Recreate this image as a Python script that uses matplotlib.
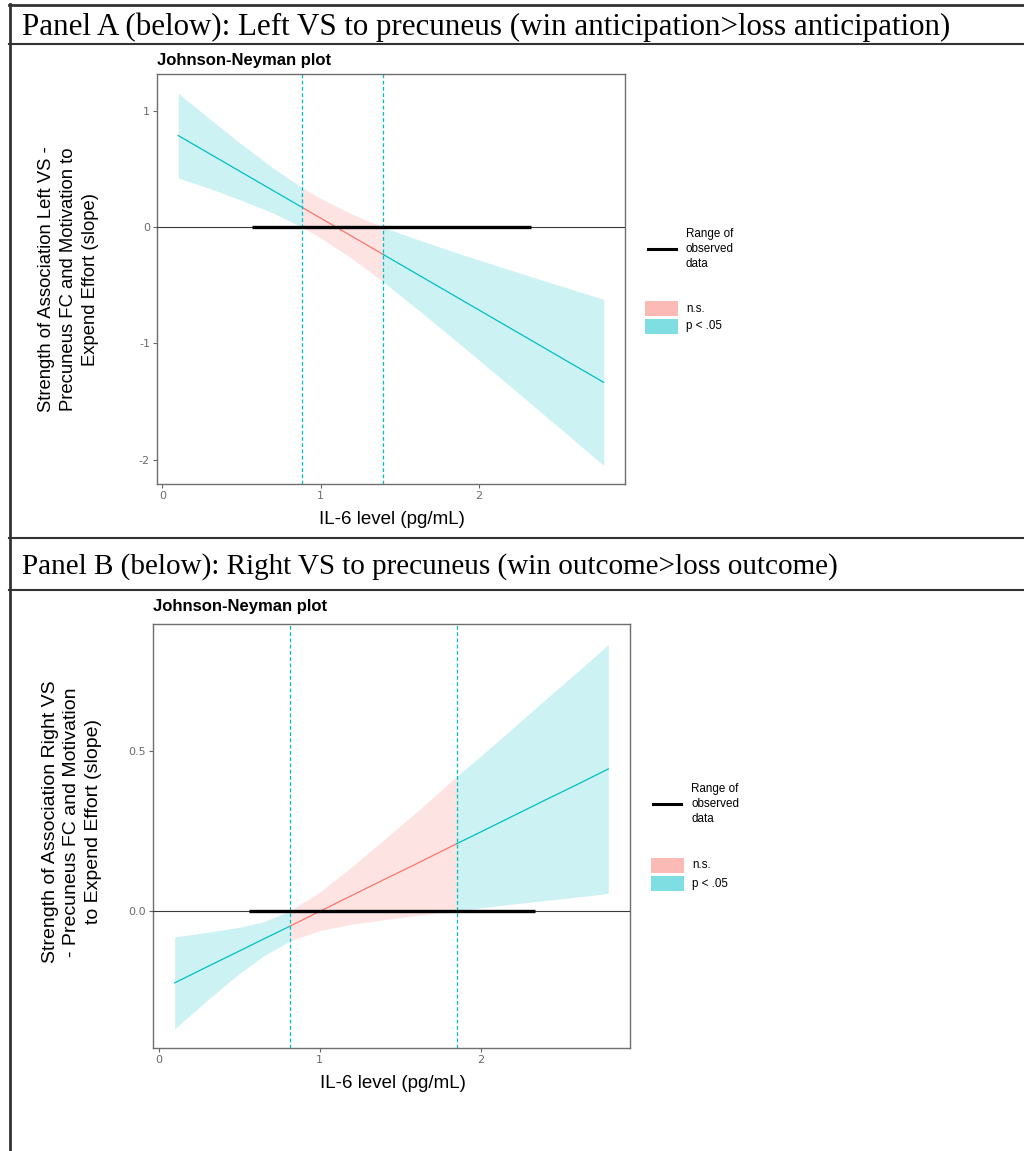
import matplotlib
matplotlib.use('Agg')
import matplotlib.pyplot as plt
from matplotlib.lines import Line2D
from matplotlib.patches import Rectangle
import numpy as np

# ---------------- data ----------------
# Panel A: Left VS to precuneus
a_x   = [0.10, 0.30, 0.50, 0.70, 0.885, 1.00, 1.20, 1.396, 1.60, 1.80, 2.00, 2.20, 2.40, 2.60, 2.79]
a_est = [0.790, 0.632, 0.474, 0.316, 0.170, 0.079, -0.079, -0.234, -0.395, -0.553, -0.711, -0.869, -1.027, -1.185, -1.335]
a_lo  = [0.425, 0.333, 0.233, 0.122, 0.000, -0.090, -0.271, -0.470, -0.692, -0.915, -1.141, -1.370, -1.600, -1.830, -2.050]
a_hi  = [1.155, 0.932, 0.715, 0.510, 0.340, 0.248, 0.113, 0.000, -0.099, -0.192, -0.281, -0.368, -0.454, -0.540, -0.620]
a_jn = [0.885, 1.396]
a_range = [0.565, 2.33]
a_yticks = [-2, -1, 0, 1]
a_yticklabels = ['-2', '-1', '0', '1']

# Panel B: Right VS to precuneus
b_x   = [0.10, 0.30, 0.50, 0.65, 0.813, 1.00, 1.20, 1.40, 1.60, 1.85, 2.00, 2.20, 2.40, 2.60, 2.79]
b_est = [-0.225, -0.175, -0.1255, -0.088, -0.048, -0.001, 0.049, 0.099, 0.148, 0.211, 0.248, 0.298, 0.348, 0.397, 0.445]
b_lo  = [-0.369, -0.280, -0.196, -0.141, -0.094, -0.061, -0.041, -0.027, -0.014, 0.000, 0.010, 0.022, 0.033, 0.044, 0.055]
b_hi  = [-0.081, -0.067, -0.051, -0.034, 0.000, 0.059, 0.139, 0.224, 0.310, 0.422, 0.486, 0.574, 0.663, 0.750, 0.835]
b_jn = [0.813, 1.85]
b_range = [0.563, 2.336]
b_yticks = [0.0, 0.5]
b_yticklabels = ['0.0', '0.5']

xticks = [0, 1, 2]
xticklabels = ['0', '1', '2']

header_a = "Panel A (below): Left VS to precuneus (win anticipation>loss anticipation)"
header_b = "Panel B (below): Right VS to precuneus (win outcome>loss outcome)"
ylabel_a = "Strength of Association Left VS -\nPrecuneus FC and Motivation to\nExpend Effort (slope)"
ylabel_b = "Strength of Association Right VS\n- Precuneus FC and Motivation\nto Expend Effort (slope)"
xlabel = "IL-6 level (pg/mL)"
plot_title = "Johnson-Neyman plot"
legend_line_label = "Range of\nobserved\ndata"
legend_ns = "n.s."
legend_sig = "p < .05"

TEAL = '#00BFC4'
RED = '#F8766D'

W, H = 1024, 1151
fig = plt.figure(figsize=(W / 100, H / 100), dpi=100)
fig.patch.set_facecolor('white')


def fx(px):
    return px / W


def fy(py):
    return 1 - py / H


def make_axes(left, top, right, bottom):
    return fig.add_axes([fx(left), fy(bottom), (right - left) / W, (bottom - top) / H])


def draw_panel(ax, x, est, lo, hi, jn, rng, ylim, yticks, yticklabels):
    x = np.asarray(x); est = np.asarray(est); lo = np.asarray(lo); hi = np.asarray(hi)
    segs = [(x <= jn[0] + 1e-9, TEAL),
            ((x >= jn[0] - 1e-9) & (x <= jn[1] + 1e-9), RED),
            (x >= jn[1] - 1e-9, TEAL)]
    for m, c in segs:
        ax.fill_between(x[m], lo[m], hi[m], color=c, alpha=0.2, linewidth=0)
    for m, c in segs:
        ax.plot(x[m], est[m], color=c, lw=0.9)
    ax.axhline(0, color='#3a3a3a', lw=0.8, zorder=3)
    ax.plot(rng, [0, 0], color='black', lw=2.4, solid_capstyle='butt', zorder=4)
    for v in jn:
        ax.axvline(v, color=TEAL, lw=0.9, ls=(0, (3, 2)), zorder=2)
    xmin, xmax = min(x), max(x)
    pad = (xmax - xmin) * 0.05
    ax.set_xlim(xmin - pad, xmax + pad)
    ax.set_ylim(*ylim)
    ax.set_xticks(xticks)
    ax.set_xticklabels(xticklabels)
    ax.set_yticks(yticks)
    ax.set_yticklabels(yticklabels)
    ax.tick_params(labelsize=8, colors='#666666', labelcolor='#6a6a6a', length=3, width=0.8, pad=2)
    for s in ax.spines.values():
        s.set_color('#6e6e6e')
        s.set_linewidth(1.0)


# ---------------- Panel A ----------------
axA = make_axes(157, 74, 625, 484)
draw_panel(axA, a_x, a_est, a_lo, a_hi, a_jn, a_range, (-2.21, 1.32), a_yticks, a_yticklabels)

# ---------------- Panel B ----------------
axB = make_axes(153, 624, 630, 1048)
draw_panel(axB, b_x, b_est, b_lo, b_hi, b_jn, b_range, (-0.429, 0.899), b_yticks, b_yticklabels)

# ---------------- texts ----------------
fig.text(fx(22), fy(27), header_a, family='Liberation Serif', fontsize=22.3, va='center', ha='left')
fig.text(fx(22), fy(567), header_b, family='Liberation Serif', fontsize=21.0, va='center', ha='left')

fig.text(fx(157), fy(60), plot_title, family='Liberation Sans', fontweight='bold', fontsize=12, va='center', ha='left')
fig.text(fx(153), fy(607), plot_title, family='Liberation Sans', fontweight='bold', fontsize=12, va='center', ha='left')

fig.text(fx(68.5), fy(279), ylabel_a, family='Liberation Sans', fontsize=13.3, rotation=90,
         va='center', ha='center', multialignment='center', linespacing=1.36)
fig.text(fx(72), fy(822), ylabel_b, family='Liberation Sans', fontsize=14, rotation=90,
         va='center', ha='center', multialignment='center', linespacing=1.33)

fig.text(fx(392), fy(519), xlabel, family='Liberation Sans', fontsize=13.5, va='center', ha='center')
fig.text(fx(393), fy(1083), xlabel, family='Liberation Sans', fontsize=13.5, va='center', ha='center')


# ---------------- legends ----------------
def draw_legend(lx, ly, px, py):
    fig.add_artist(Line2D([fx(lx), fx(lx + 28)], [fy(ly), fy(ly)], color='black', lw=2.2))
    fig.text(fx(lx + 38), fy(ly), legend_line_label, family='Liberation Sans', fontsize=8.4,
             va='center', ha='left', linespacing=1.3)
    for i, (c, lab) in enumerate([(RED, legend_ns), (TEAL, legend_sig)]):
        top = py + i * 18
        fig.add_artist(Rectangle((fx(px), fy(top + 15)), 33 / W, 15 / H, facecolor=c, alpha=0.5,
                                 edgecolor='none', transform=fig.transFigure))
        fig.text(fx(px + 41), fy(top + 7.5), lab, family='Liberation Sans', fontsize=8.4,
                 va='center', ha='left')


draw_legend(648, 249, 645, 301)
draw_legend(653, 804, 651, 858)

# ---------------- table borders ----------------
def hline(y, lw=1.5):
    fig.add_artist(Line2D([fx(9), 1], [fy(y), fy(y)], color='#333333', lw=lw))


hline(5, 2.0)
hline(44)
hline(538)
hline(590)
fig.add_artist(Line2D([fx(9.5), fx(9.5)], [fy(4), 0], color='#333333', lw=2.0))

fig.savefig('out.png', dpi=100, facecolor='white')
